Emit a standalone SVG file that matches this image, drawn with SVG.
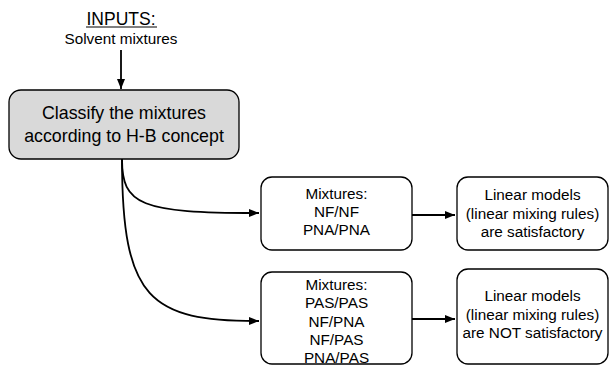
<svg xmlns="http://www.w3.org/2000/svg" width="609" height="366" viewBox="0 0 609 366">
<style>
text{font-family:"Liberation Sans",Arial,sans-serif;fill:#000;text-anchor:middle}
.box{fill:#fff;stroke:#000;stroke-width:1.3}
.main{fill:#d9d9d9;stroke:#000;stroke-width:1.3}
.c{fill:none;stroke:#000;stroke-width:1.8}
.t15{font-size:15.3px}
</style>
<defs>
<marker id="ah" viewBox="0 0 10 8" refX="10" refY="4" markerWidth="10" markerHeight="8" markerUnits="userSpaceOnUse" orient="auto">
<path d="M0,0 L10,4 L0,8 z" fill="#000"/>
</marker>
</defs>
<g id="inputs">
<text x="121" y="25" font-size="17.5">INPUTS:</text>
<line x1="86" y1="27" x2="157" y2="27" stroke="#000" stroke-width="1"/>
<text x="121" y="44" class="t15">Solvent mixtures</text>
</g>
<g id="classify">
<rect class="main" x="9" y="90" width="230" height="69" rx="12"/>
<text x="124" y="119" font-size="17.8">Classify the mixtures</text>
<text x="124" y="142" font-size="17.8">according to H-B concept</text>
</g>
<g id="mix1">
<rect class="box" x="261" y="177" width="151" height="73" rx="11"/>
<text x="336.5" y="199" class="t15">Mixtures:</text>
<text x="336.5" y="217" class="t15">NF/NF</text>
<text x="336.5" y="235" class="t15">PNA/PNA</text>
</g>
<g id="mix2">
<rect class="box" x="261" y="272" width="151" height="92" rx="11"/>
<text x="336.5" y="290" class="t15">Mixtures:</text>
<text x="336.5" y="308" class="t15">PAS/PAS</text>
<text x="336.5" y="327" class="t15">NF/PNA</text>
<text x="336.5" y="345" class="t15">NF/PAS</text>
<text x="336.5" y="363" class="t15">PNA/PAS</text>
</g>
<g id="res1">
<rect class="box" x="457" y="177" width="151" height="73" rx="11"/>
<text x="532.5" y="200" class="t15">Linear models</text>
<text x="532.5" y="219" class="t15">(linear mixing rules)</text>
<text x="532.5" y="237" class="t15">are satisfactory</text>
</g>
<g id="res2">
<rect class="box" x="457" y="269" width="151" height="95" rx="11"/>
<text x="532.5" y="301" class="t15">Linear models</text>
<text x="532.5" y="320" class="t15">(linear mixing rules)</text>
<text x="532.5" y="338" class="t15">are NOT satisfactory</text>
</g>
<g id="connectors">
<line class="c" x1="121" y1="50" x2="121" y2="89" marker-end="url(#ah)"/>
<path class="c" d="M122,159 C122,205 140,213 259,213" marker-end="url(#ah)"/>
<path class="c" d="M122,159 C122,300 150,321 259,321" marker-end="url(#ah)"/>
<line class="c" x1="412" y1="215" x2="455" y2="215" marker-end="url(#ah)"/>
<line class="c" x1="412" y1="319" x2="455" y2="319" marker-end="url(#ah)"/>
</g>
</svg>
